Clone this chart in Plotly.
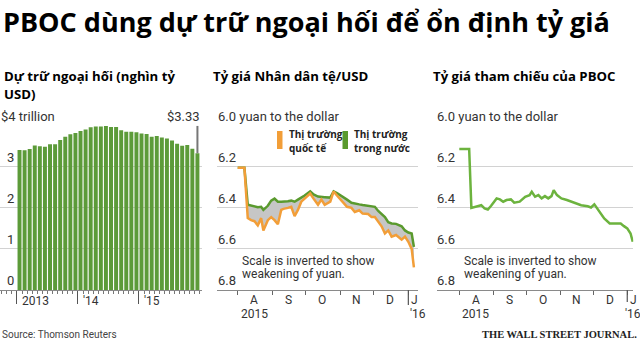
import plotly.graph_objects as go

W, H = 640, 355
def px(x): return x / W
def py(y): return 1 - y / H

# ---------------- data ----------------
# Left: China FX reserves, trillion USD, monthly Jan 2013 .. Dec 2015
reserve_idx = list(range(36))
reserves = [3.41, 3.40, 3.43, 3.52, 3.50, 3.49, 3.55, 3.55, 3.65, 3.73, 3.79, 3.82,
            3.87, 3.91, 3.96, 3.98, 3.98, 3.99, 3.97, 3.97, 3.89, 3.85, 3.85, 3.84,
            3.81, 3.80, 3.73, 3.75, 3.71, 3.69, 3.64, 3.56, 3.51, 3.53, 3.44, 3.33]
year_ticks = [-0.5, 11.5, 23.5]
year_labels = ["2013", "'14", "'15"]
left_grid = [1, 2, 3, 4]
left_grid_labels = ["1", "2", "3", "$4 trillion"]

# Middle: yuan per dollar, offshore (orange) vs onshore (green)
mid_dates = ["2015-08-01", "2015-08-07", "2015-08-10", "2015-08-13", "2015-08-16", "2015-08-19",
             "2015-08-22", "2015-08-24", "2015-08-28", "2015-08-31",
             "2015-09-03", "2015-09-06", "2015-09-09", "2015-09-11", "2015-09-15", "2015-09-18",
             "2015-09-21", "2015-09-24", "2015-09-27", "2015-09-30",
             "2015-10-05", "2015-10-08", "2015-10-12", "2015-10-15", "2015-10-18", "2015-10-23",
             "2015-10-26", "2015-10-29",
             "2015-11-01", "2015-11-04", "2015-11-07", "2015-11-11", "2015-11-14", "2015-11-18",
             "2015-11-21", "2015-11-26", "2015-11-29",
             "2015-12-02", "2015-12-05", "2015-12-08", "2015-12-11", "2015-12-14", "2015-12-17",
             "2015-12-21", "2015-12-26", "2015-12-29",
             "2016-01-01", "2016-01-04", "2016-01-06"]
onshore = [6.205, 6.205, 6.385, 6.39, 6.392, 6.397, 6.395, 6.41, 6.39, 6.365,
           6.355, 6.37, 6.37, 6.37, 6.368, 6.365, 6.37, 6.36, 6.352, 6.34,
           6.32, 6.335, 6.345, 6.345, 6.348, 6.35, 6.32, 6.328,
           6.34, 6.35, 6.36, 6.375, 6.38, 6.383, 6.386, 6.39, 6.392,
           6.395, 6.415, 6.43, 6.445, 6.47, 6.476, 6.478, 6.49, 6.51,
           6.52, 6.525, 6.59]
offshore = [6.205, 6.205, 6.45, 6.46, 6.465, 6.485, 6.45, 6.51, 6.46, 6.445,
            6.46, 6.48, 6.41, 6.405, 6.40, 6.395, 6.44, 6.41, 6.37, 6.355,
            6.33, 6.355, 6.385, 6.36, 6.385, 6.37, 6.32, 6.34,
            6.36, 6.375, 6.395, 6.40, 6.42, 6.412, 6.428, 6.43, 6.445,
            6.445, 6.47, 6.49, 6.525, 6.51, 6.54, 6.532, 6.555, 6.54,
            6.565, 6.60, 6.69]

# Right: PBOC reference rate
pboc_dates = ["2015-08-01", "2015-08-10", "2015-08-12", "2015-08-16", "2015-08-21", "2015-08-24",
              "2015-08-27", "2015-08-30",
              "2015-09-04", "2015-09-07", "2015-09-10", "2015-09-13", "2015-09-17", "2015-09-20",
              "2015-09-25", "2015-09-30",
              "2015-10-04", "2015-10-06", "2015-10-09", "2015-10-12", "2015-10-15", "2015-10-18",
              "2015-10-21", "2015-10-24", "2015-10-26", "2015-10-29",
              "2015-11-02", "2015-11-07", "2015-11-11", "2015-11-16", "2015-11-20", "2015-11-26",
              "2015-11-29",
              "2015-12-02", "2015-12-07", "2015-12-11", "2015-12-16", "2015-12-19", "2015-12-23",
              "2015-12-26", "2015-12-29",
              "2016-01-01", "2016-01-04", "2016-01-06"]
pboc = [6.114, 6.114, 6.40, 6.395, 6.387, 6.403, 6.408, 6.39,
        6.354, 6.359, 6.37, 6.362, 6.359, 6.375, 6.37, 6.346,
        6.338, 6.322, 6.346, 6.338, 6.354, 6.343, 6.354, 6.343, 6.314, 6.338,
        6.354, 6.362, 6.37, 6.382, 6.387, 6.392, 6.398,
        6.383, 6.419, 6.452, 6.476, 6.476, 6.473, 6.476, 6.489,
        6.50, 6.525, 6.565]

rate_grid = [6.0, 6.2, 6.4, 6.6, 6.8]
rate_grid_labels = ["6.0 yuan to the dollar", "6.2", "6.4", "6.6", "6.8"]
month_mid = ["2015-08-16", "2015-09-15 12:00", "2015-10-16", "2015-11-15 12:00", "2015-12-16"]
month_letters = ["A", "S", "O", "N", "D"]

# ---------------- style ----------------
NARROW = "Liberation Sans Narrow, Arial Narrow, Roboto, sans-serif"
BOLD = "Open Sans, Lato, sans-serif"
GREEN_BAR = "#5c9b39"
GREEN = "#5a9a2e"
GREEN_LIGHT = "#6cb33e"
ORANGE = "#f29e38"
GRID = "#d2d2d2"
AXIS = "#8a8a8a"
TXT = "#333333"

fig = go.Figure()

fig.add_trace(go.Bar(x=reserve_idx, y=reserves, marker=dict(color=GREEN_BAR, line=dict(width=0)),
                     xaxis="x", yaxis="y", showlegend=False, hoverinfo="skip"))

fig.add_trace(go.Scatter(x=mid_dates, y=offshore, mode="lines", line=dict(width=0, color=ORANGE),
                         xaxis="x2", yaxis="y2", showlegend=False, hoverinfo="skip"))
fig.add_trace(go.Scatter(x=mid_dates, y=onshore, mode="lines", fill="tonexty", fillcolor="#c6c6c6",
                         line=dict(width=2.5, color=GREEN), xaxis="x2", yaxis="y2", showlegend=False))
fig.add_trace(go.Scatter(x=mid_dates, y=offshore, mode="lines", line=dict(width=2.5, color=ORANGE),
                         xaxis="x2", yaxis="y2", showlegend=False))

fig.add_trace(go.Scatter(x=pboc_dates, y=pboc, mode="lines", line=dict(width=2.5, color=GREEN_LIGHT),
                         xaxis="x3", yaxis="y3", showlegend=False))

ydom = [py(290), py(125.7)]
common_x = dict(showline=True, linecolor=AXIS, linewidth=1, showgrid=False, zeroline=False,
                showticklabels=False, fixedrange=True)
common_y = dict(showline=False, showgrid=True, gridcolor=GRID, gridwidth=1, zeroline=False,
                showticklabels=False, ticks="", domain=ydom, fixedrange=True)

fig.update_layout(
    width=W, height=H, margin=dict(l=0, r=0, t=0, b=0),
    paper_bgcolor="white", plot_bgcolor="white", bargap=0.22,
    xaxis=dict(domain=[px(0), px(202)], range=[-3.84, 35.9], tickvals=year_ticks,
               ticks="outside", ticklen=13, tickcolor="#555", tickwidth=1,
               minor=dict(tick0=-0.5, dtick=1, ticks="outside", ticklen=3, tickcolor="#777"),
               **common_x),
    yaxis=dict(range=[0, 4], tickvals=left_grid, anchor="x", **common_y),
    xaxis2=dict(domain=[px(217), px(418)], type="date",
                range=["2015-07-13 10:00", "2016-01-09 16:00"], anchor="y2",
                tickvals=["2015-08-01"], ticks="",
                minor=dict(tick0="2015-08-01", dtick="M1", ticks="outside", ticklen=4, tickcolor="#666"),
                **common_x),
    yaxis2=dict(range=[6.8, 6.0], tickvals=rate_grid[:-1], anchor="x2", **common_y),
    xaxis3=dict(domain=[px(436.7), px(633.3)], type="date",
                range=["2015-07-11 10:00", "2016-01-06 12:00"], anchor="y3",
                tickvals=["2015-08-01"], ticks="",
                minor=dict(tick0="2015-08-01", dtick="M1", ticks="outside", ticklen=4, tickcolor="#666"),
                **common_x),
    yaxis3=dict(range=[6.8, 6.0], tickvals=rate_grid[:-1], anchor="x3", **common_y),
)

ann = []
def text(x, y, s, size=13, color=TXT, family=NARROW, weight="normal", xanchor="left",
         yanchor="middle", xref="paper", yref="paper", **kw):
    ann.append(dict(x=x, y=y, text=s, xref=xref, yref=yref, xanchor=xanchor, yanchor=yanchor,
                    showarrow=False, font=dict(size=size, color=color, family=family, weight=weight),
                    borderpad=0, **kw))

# titles
text(px(2), py(21), "PBOC dùng dự trữ ngoại hối để ổn định tỷ giá", size=27, color="#000",
     family=BOLD, weight="bold")
text(px(3), py(76), "Dự trữ ngoại hối (nghìn tỷ", size=13.2, color="#000", family=BOLD, weight="bold")
text(px(3), py(94), "USD)", size=13.2, color="#000", family=BOLD, weight="bold")
text(px(212), py(76), "Tỷ giá Nhân dân tệ/USD", size=13.2, color="#000", family=BOLD, weight="bold")
text(px(432), py(76), "Tỷ giá tham chiếu của PBOC", size=13.2, color="#000", family=BOLD, weight="bold")

# left gridline labels
for v, lab in zip(left_grid, left_grid_labels):
    text(px(0) if v == 4 else px(6), v, lab, yref="y", yanchor="bottom", yshift=1)
text(px(6), 0, "0", yref="y", yanchor="bottom", yshift=1)
text(reserve_idx[-1], 4, "$%.2f" % reserves[-1], xref="x", yref="y", xanchor="right",
     yanchor="bottom", xshift=4, yshift=1)
for xv, lab in zip(year_ticks, year_labels):
    text(xv, py(301), lab, xref="x", xshift=4, size=12)

# rate charts gridline labels + x labels
for xa, ya, x0 in (("x2", "y2", 217), ("x3", "y3", 436)):
    for v, lab in zip(rate_grid, rate_grid_labels):
        text(px(x0), v, lab, yref=ya, yanchor="bottom", yshift=1)
    for d, lab in zip(month_mid, month_letters):
        text(d, py(300), lab, xref=xa, xanchor="center", size=12)
    text(month_mid[0], py(313.5), "2015", xref=xa, xanchor="center", size=12)
    text("2016-01-01", py(300), "J", xref=xa, xshift=2, size=12)
    text("2016-01-01", py(313.5), "'16", xref=xa, xshift=(1 if xa == "x2" else -3), size=12)
    text(px(x0 + (24 if xa == "x2" else 27)), py(261), "Scale is inverted to show", size=12)
    text(px(x0 + (24 if xa == "x2" else 27)), py(274), "weakening of yuan.", size=12)

# legend (middle chart)
text(px(288), py(134), "Thị trường", size=10, color="#222", family=BOLD, weight="bold")
text(px(288), py(148), "quốc tế", size=10, color="#222", family=BOLD, weight="bold")
text(px(353), py(134), "Thị trường", size=10, color="#222", family=BOLD, weight="bold")
text(px(353), py(148), "trong nước", size=10, color="#222", family=BOLD, weight="bold")

# footer
text(px(1), py(334), "Source: Thomson Reuters", size=10, color="#444")
text(px(638), py(334), "THE WALL STREET JOURNAL.", size=10.5, color="#222",
     family="Liberation Serif, DejaVu Serif, serif", weight="bold", xanchor="right")

fig.update_layout(annotations=ann)

shapes = [
    dict(type="line", xref="x", yref="y", x0=reserve_idx[-1], x1=reserve_idx[-1], y0=reserves[-1], y1=4,
         line=dict(color="#777", width=2)),
    dict(type="line", xref="x2", yref="paper", x0="2016-01-01", x1="2016-01-01", y0=py(290), y1=py(305),
         line=dict(color="#555", width=1.2)),
    dict(type="line", xref="x3", yref="paper", x0="2016-01-01", x1="2016-01-01", y0=py(290), y1=py(302),
         line=dict(color="#555", width=1.2)),
    dict(type="rect", xref="paper", yref="paper", x0=px(277), x1=px(282.5), y0=py(149), y1=py(131),
         fillcolor=ORANGE, line=dict(width=0)),
    dict(type="rect", xref="paper", yref="paper", x0=px(342.5), x1=px(348), y0=py(149), y1=py(131),
         fillcolor=GREEN, line=dict(width=0)),
]
fig.update_layout(shapes=shapes)

fig.write_html("out.html", config={"displayModeBar": False},
               post_script="document.body.style.margin='0';document.body.style.overflow='hidden';")
